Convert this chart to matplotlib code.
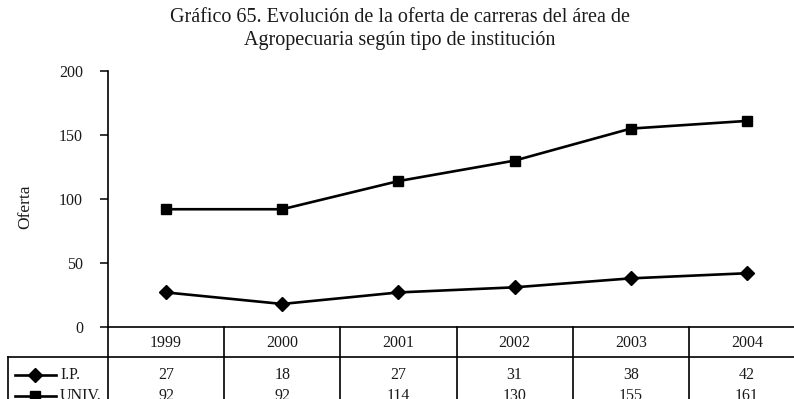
import matplotlib
matplotlib.use("Agg")
import matplotlib.pyplot as plt

# Offer of programmes in the agricultural area, by type of institution
years = ["1999", "2000", "2001", "2002", "2003", "2004"]
ip_values = [27, 18, 27, 31, 38, 42]
univ_values = [92, 92, 114, 130, 155, 161]
series_names = ["I.P.", "UNIV."]
series_markers = ["D", "s"]
y_ticks = [0, 50, 100, 150, 200]

plt.rcParams['font.family'] = ['Liberation Serif', 'DejaVu Serif']
TXT = '#1a1a1a'

W, H = 794, 399
fig = plt.figure(figsize=(W / 100, H / 100), dpi=100)

# plot area in pixels (the last column runs past the right edge)
left, right, top, bottom = 108, 805, 71, 327
ax = fig.add_axes([left / W, 1 - bottom / H, (right - left) / W, (bottom - top) / H])
colw = (right - left) / len(years)
axh = bottom - top

x = list(range(len(years)))
series = [ip_values, univ_values]
for vals, mk in zip(series, series_markers):
    ax.plot(x, vals, color='black', lw=1.9, marker=mk,
            ms=7.5 if mk == 'D' else 7, mfc='black', mec='black', clip_on=False, zorder=3)

ax.set_xlim(-0.5, len(years) - 0.5)
ax.set_ylim(0, 200)
ax.set_yticks(y_ticks)
ax.set_xticks([])
for s in ['top', 'right']:
    ax.spines[s].set_visible(False)
ax.spines['left'].set_linewidth(1.2)
ax.spines['bottom'].set_linewidth(1.2)
ax.tick_params(axis='y', direction='out', length=6, width=1.1, pad=12,
               labelsize=11.5, labelcolor=TXT)
ax.set_ylabel('Oferta', fontsize=12.5, color=TXT)
ax.yaxis.set_label_coords((33 - left) / (right - left), 0.47)

fig.text(400 / W, 1 - 17 / H,
         'Gráfico 65. Evolución de la oferta de carreras del área de',
         ha='center', va='center', fontsize=14.5, color=TXT)
fig.text(400 / W, 1 - 41 / H,
         'Agropecuaria según tipo de institución',
         ha='center', va='center', fontsize=14.5, color=TXT)

# data table under the axis
tr = ax.get_xaxis_transform()


def px_x(px):
    return -0.5 + (px - left) / colw


def px_y(py):
    return (bottom - py) / axh


lw_t = 1.2
table_bottom = px_y(430)
header_line = px_y(357)
first_col = px_x(8)
for k in range(len(years) + 1):
    ax.plot([k - 0.5, k - 0.5], [0, table_bottom], color='black', lw=lw_t,
            transform=tr, clip_on=False)
ax.plot([first_col, len(years) - 0.5], [header_line, header_line], color='black',
        lw=lw_t, transform=tr, clip_on=False)
ax.plot([first_col, first_col], [header_line, table_bottom], color='black',
        lw=lw_t, transform=tr, clip_on=False)

for i, yr in enumerate(years):
    ax.text(i, px_y(343), yr, transform=tr, ha='center', va='center',
            fontsize=11.5, color=TXT)

row_y = [375, 396]
for vals, name, mk, ry in zip(series, series_names, series_markers, row_y):
    yy = px_y(ry)
    ax.plot([px_x(15), px_x(56)], [yy, yy], color='black', lw=1.9,
            transform=tr, clip_on=False)
    ax.plot([px_x(35)], [yy], marker=mk, ms=7.5 if mk == 'D' else 7,
            color='black', transform=tr, clip_on=False)
    ax.text(px_x(60), yy, name, transform=tr, ha='left', va='center',
            fontsize=11.5, color=TXT)
    for i, v in enumerate(vals):
        ax.text(i, yy, str(v), transform=tr, ha='center', va='center',
                fontsize=11.5, color=TXT)

fig.savefig('out.png', dpi=100)
